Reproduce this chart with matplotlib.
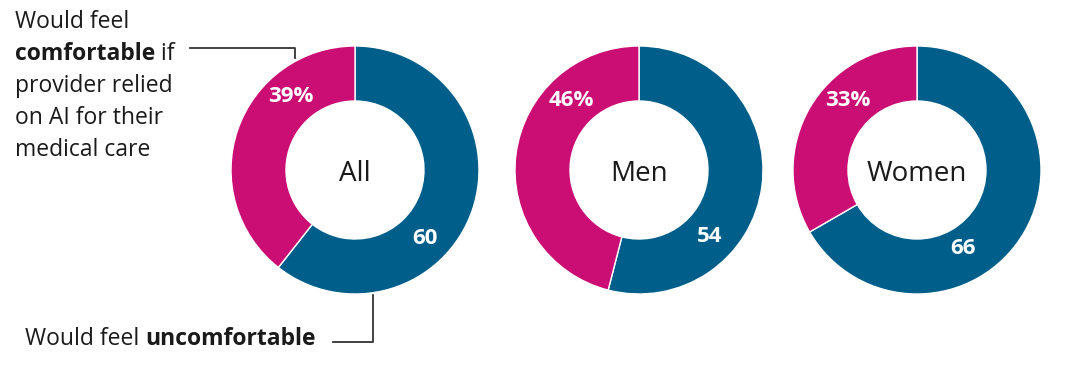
import matplotlib
matplotlib.use("Agg")
import matplotlib.pyplot as plt

plt.rcParams['font.family'] = ['Open Sans', 'DejaVu Sans']

groups = ["All", "Men", "Women"]
uncomfortable = [60, 54, 66]
comfortable = [39, 46, 33]

blue = "#005f8a"
pink = "#cb0e74"
txt = "#1a1a1a"

H = 366
# layout in pixel coords (y measured from top)
centers = [(355, 170), (639, 170), (917, 170)]
R = 124
ring = 55
pct_off = [(-64, -73), (-68, -70), (-69, -70)]
num_off = [(70, 68), (71, 66), (46, 78)]

fig = plt.figure(figsize=(10.8, 3.66), dpi=100)
ax = fig.add_axes([0, 0, 1, 1])

for i, g in enumerate(groups):
    cx, cy = centers[i]
    ax.pie([uncomfortable[i], comfortable[i]], colors=[blue, pink],
           startangle=90, counterclock=False, radius=R, center=(cx, H - cy),
           wedgeprops=dict(width=ring, edgecolor="white", linewidth=1))
    ax.text(cx, H - cy - 4, g, ha="center", va="center", fontsize=20, color=txt)
    dx, dy = pct_off[i]
    ax.text(cx + dx, H - (cy + dy), "%d%%" % comfortable[i], ha="center", va="center",
            fontsize=16, fontweight="bold", color="white")
    dx, dy = num_off[i]
    ax.text(cx + dx, H - (cy + dy), "%d" % uncomfortable[i], ha="center", va="center",
            fontsize=16, fontweight="bold", color="white")

# annotation for the comfortable slice
fs = 16.5
ax.text(15, H - 28, "Would feel", fontsize=fs, color=txt, va="baseline")
t = ax.text(15, H - 60, "comfortable", fontsize=fs, fontweight="bold", color=txt, va="baseline")
ax.annotate(" if", xy=(1, 0), xycoords=t, va="bottom", ha="left", fontsize=fs, color=txt)
ax.text(15, H - 92, "provider relied", fontsize=fs, color=txt, va="baseline")
ax.text(15, H - 124, "on AI for their", fontsize=fs, color=txt, va="baseline")
ax.text(15, H - 156, "medical care", fontsize=fs, color=txt, va="baseline")
ax.plot([190, 295, 295], [H - 48, H - 48, H - 58], color="#333333", lw=1.3)

# annotation for the uncomfortable slice
t2 = ax.text(25, H - 345, "Would feel ", fontsize=fs, color=txt, va="baseline")
ax.annotate("uncomfortable", xy=(1, 0), xycoords=t2, va="bottom", ha="left",
            fontsize=fs, fontweight="bold", color=txt)
ax.plot([333, 373, 373], [H - 342, H - 342, H - 295], color="#333333", lw=1.3)

ax.set_xlim(0, 1080)
ax.set_ylim(0, H)
ax.set_aspect("auto")
ax.axis("off")

fig.savefig("out.png", dpi=100, facecolor="white")
